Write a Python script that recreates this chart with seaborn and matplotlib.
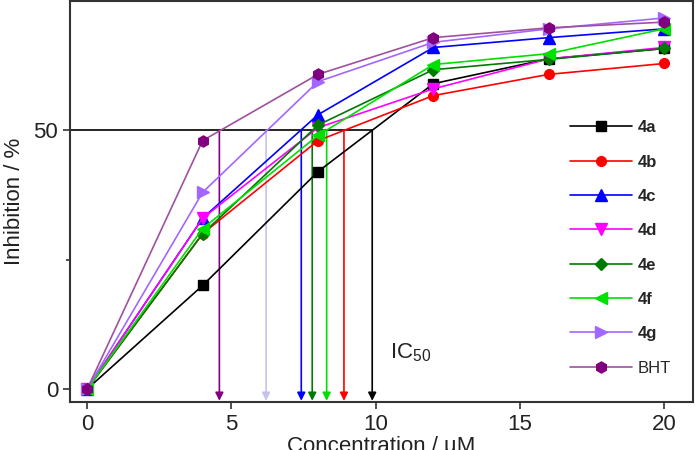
import matplotlib
matplotlib.use('Agg')
import matplotlib.pyplot as plt
import seaborn as sns
import pandas as pd

# concentrations (uM) and inhibition (%)
conc = [0, 4, 8, 12, 16, 20]
inh_4a = [0, 20, 42, 59, 63.8, 65.8]
inh_4b = [0, 30, 48, 56.7, 60.8, 62.9]
inh_4c = [0, 33, 53, 66, 67.9, 69.6]
inh_4d = [0, 33, 50.5, 58, 63.8, 66]
inh_4e = [0, 30, 51, 61.7, 63.7, 65.8]
inh_4f = [0, 31, 49, 62.7, 64.8, 69.6]
inh_4g = [0, 38, 59.4, 67, 69.6, 71.7]
inh_bht = [0, 48, 60.8, 67.9, 69.8, 70.9]

names = ['4a', '4b', '4c', '4d', '4e', '4f', '4g', 'BHT']
values = [inh_4a, inh_4b, inh_4c, inh_4d, inh_4e, inh_4f, inh_4g, inh_bht]
colors = ['black', '#ff0000', '#0000ff', '#ff00ff', '#007a00', '#00e000', '#a366ff', '#a050a0']
marker_colors = ['black', '#ff0000', '#0000ff', '#ff00ff', '#007a00', '#00e000', '#a366ff', '#800080']
markers = ['s', 'o', '^', 'v', 'D', '<', '>', 'h']
msizes = [7, 7, 8, 8, 6, 8, 8, 8]

# IC50 read-outs (arrows)
ic50_x = [4.58, 6.2, 7.42, 7.8, 8.3, 8.9, 9.88]
ic50_colors = ['#800080', '#c4c4ea', '#0000ff', '#007a00', '#00e000', '#ff0000', 'black']

sns.set_style("white")
plt.rcParams['font.family'] = ['Liberation Sans', 'DejaVu Sans']
plt.rcParams['mathtext.default'] = 'regular'

fig = plt.figure(figsize=(6.95, 4.5), dpi=100)
ax = fig.add_axes([0.1007, 0.107, 0.8963, 0.891])

df = pd.DataFrame({'conc': conc * len(names),
                   'inh': sum(values, []),
                   'cpd': [n for n in names for _ in conc]})

for name, c, mc, m, ms in zip(names, colors, marker_colors, markers, msizes):
    sub = df[df.cpd == name]
    sns.lineplot(data=sub, x='conc', y='inh', color=c, marker=m, markersize=ms,
                 markerfacecolor=mc, markeredgecolor=mc, markeredgewidth=1,
                 linewidth=1.2, label=name, ax=ax)

xmin, xmax = -0.6, 21.0
ymin, ymax = -2.5, 75.0

# IC50 construction lines
ax.plot([xmin, max(ic50_x)], [50, 50], color='black', lw=1.2, zorder=1)
for xv, c in zip(ic50_x, ic50_colors):
    ax.annotate('', xy=(xv, -2.3), xytext=(xv, 50),
                arrowprops=dict(arrowstyle='-|>', color=c, lw=1.2,
                                mutation_scale=12, shrinkA=0, shrinkB=0),
                zorder=1)

ax.text(10.5, 7, r'IC$_{50}$', fontsize=16, color='#222222', ha='left', va='center')

ax.set_xlim(xmin, xmax)
ax.set_ylim(ymin, ymax)
ax.set_xticks([0, 5, 10, 15, 20])
ax.set_yticks([0, 50])
ax.set_yticks([25], minor=True)
ax.tick_params(axis='both', which='major', direction='out', length=5, width=1.2,
               labelsize=16, colors='#333333', labelcolor='#222222', left=True, bottom=True)
ax.tick_params(axis='y', which='minor', direction='out', length=3, width=1.2,
               colors='#333333', left=True)
for sp in ax.spines.values():
    sp.set_color('#333333')
    sp.set_linewidth(1.5)

ax.set_xlabel('Concentration / µM', fontsize=16, color='#222222', labelpad=1)
ax.set_ylabel('Inhibition / %', fontsize=16, color='#222222', labelpad=6)

leg = ax.legend(loc='upper left', bbox_to_anchor=(0.8026, 0.7025), frameon=False,
                fontsize=12, handlelength=3.7, handletextpad=0.36,
                labelspacing=1.16, borderaxespad=0, borderpad=0)
for t in leg.get_texts():
    if t.get_text() != 'BHT':
        t.set_fontweight('bold')

fig.savefig('out.png', dpi=100)
